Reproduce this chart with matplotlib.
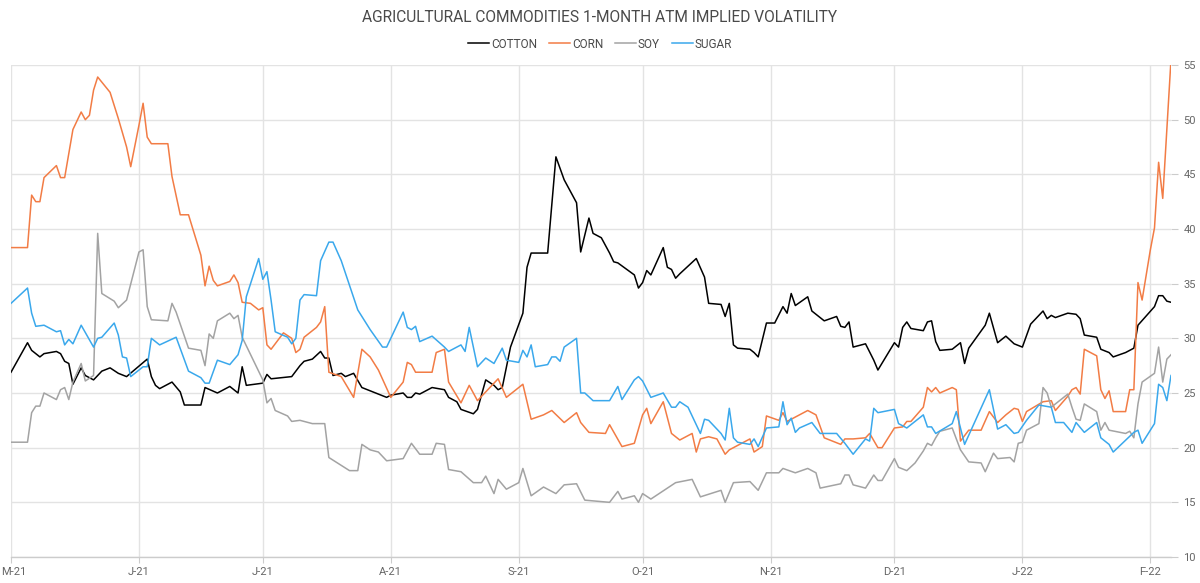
import matplotlib
matplotlib.use('Agg')
import matplotlib.pyplot as plt
import matplotlib.transforms as mtransforms
import pandas as pd

# ---------------- data ----------------
base_date = '2021-05-01'

cotton_day = [0, 4, 5, 7, 8, 11, 12, 13, 14, 15, 17, 18, 20, 22, 24, 26, 28, 33, 34, 35, 36, 39, 41, 42,
              46, 47, 50, 53, 55, 56, 57, 61, 62, 63, 68, 70, 71, 73, 75, 76, 77, 78, 80, 81, 83, 85, 87,
              89, 91, 92, 95, 96, 97, 98, 99, 102, 105, 106, 108, 109, 112, 113, 115, 117, 118, 119, 121,
              124, 125, 126, 130, 132, 134, 137, 138, 140, 141, 143, 145, 146, 147, 151, 152, 153, 154,
              155, 158, 159, 160, 161, 162, 166, 168, 169, 172, 173, 174, 175, 176, 179, 180, 181, 183,
              185, 187, 188, 189, 190, 193, 194, 195, 197, 200, 201, 202, 203, 204, 207, 209, 210, 214,
              215, 216, 217, 218, 221, 222, 223, 224, 225, 228, 230, 231, 232, 236, 237, 239, 241, 243,
              245, 247, 250, 251, 252, 253, 256, 258, 259, 260, 263, 264, 266, 267, 270, 272, 273, 277,
              278, 279, 280, 281]
cotton_vol = [26.9, 29.6, 28.9, 28.3, 28.6, 28.8, 28.6, 27.9, 27.7, 25.8, 27.3, 26.6, 26.2, 27.0, 27.3,
              26.8, 26.5, 28.1, 26.5, 25.7, 25.4, 26.0, 25.1, 23.9, 23.9, 25.5, 25.0, 25.6, 25.0, 27.4,
              25.7, 25.9, 26.7, 26.3, 26.5, 27.5, 27.9, 28.1, 28.8, 28.2, 28.2, 26.6, 26.8, 26.5, 26.8,
              25.5, 25.2, 24.9, 24.6, 24.8, 25.0, 24.6, 24.6, 25.0, 24.9, 25.5, 25.3, 24.6, 24.2, 23.5,
              23.1, 23.5, 26.2, 25.7, 25.3, 25.5, 29.2, 32.3, 36.5, 37.8, 37.8, 46.6, 44.5, 42.4, 37.9,
              41.0, 39.6, 39.2, 37.8, 37.0, 36.9, 35.8, 34.6, 35.1, 36.2, 35.8, 38.3, 36.5, 36.3, 35.5,
              35.9, 37.3, 35.6, 33.2, 33.1, 32.0, 33.2, 29.4, 29.1, 29.0, 28.7, 28.3, 31.4, 31.4, 32.9,
              32.3, 34.1, 33.0, 33.8, 32.5, 32.2, 31.6, 32.0, 31.1, 31.0, 31.5, 29.2, 29.5, 28.0, 27.1,
              29.6, 29.2, 31.0, 31.5, 30.9, 30.7, 31.5, 31.6, 29.7, 28.9, 29.0, 29.6, 27.7, 29.1, 31.2,
              32.3, 29.6, 30.2, 29.5, 29.2, 31.3, 32.5, 31.8, 32.1, 31.9, 32.3, 32.2, 31.8, 30.3, 30.1,
              29.0, 28.7, 28.3, 28.7, 29.1, 31.2, 32.9, 33.9, 33.9, 33.4, 33.3]

corn_day = [0, 4, 5, 6, 7, 8, 11, 12, 13, 15, 17, 18, 19, 20, 21, 24, 26, 28, 29, 31, 32, 33, 34, 38, 39,
            41, 43, 46, 47, 48, 49, 50, 53, 54, 55, 56, 58, 60, 61, 62, 63, 66, 68, 69, 70, 71, 74, 75,
            76, 77, 80, 83, 85, 87, 89, 92, 95, 96, 97, 98, 102, 103, 105, 106, 109, 111, 113, 118, 120,
            124, 126, 129, 131, 134, 137, 138, 140, 144, 145, 148, 151, 153, 154, 155, 158, 160, 162,
            165, 166, 167, 169, 171, 173, 174, 179, 180, 182, 183, 186, 187, 188, 191, 193, 195, 197,
            201, 202, 204, 207, 208, 210, 211, 214, 216, 217, 218, 221, 222, 223, 224, 225, 228, 229,
            230, 232, 235, 237, 239, 241, 243, 244, 245, 246, 250, 252, 253, 256, 257, 258, 259, 260,
            263, 264, 265, 266, 267, 270, 271, 272, 273, 274, 276, 277, 278, 279, 281]
corn_vol = [38.3, 38.3, 43.1, 42.5, 42.5, 44.7, 45.8, 44.7, 44.7, 49.1, 50.7, 50.0, 50.4, 52.7, 53.9,
            52.5, 50.1, 47.5, 45.7, 49.5, 51.5, 48.4, 47.8, 47.8, 44.8, 41.3, 41.3, 37.6, 34.8, 36.6,
            35.3, 34.8, 35.2, 35.8, 35.1, 33.3, 33.2, 32.6, 32.8, 29.4, 29.0, 30.5, 30.0, 28.7, 29.0,
            30.1, 31.0, 31.5, 32.9, 26.9, 26.5, 24.6, 29.0, 28.3, 27.1, 24.6, 26.0, 27.8, 27.6, 26.9,
            26.9, 28.7, 29.0, 26.0, 24.1, 25.7, 24.3, 26.3, 24.6, 25.8, 22.6, 23.0, 23.4, 22.3, 23.2,
            22.3, 21.4, 21.3, 22.1, 20.1, 20.4, 23.0, 23.6, 22.2, 24.2, 21.3, 20.7, 21.3, 19.6, 20.8,
            21.0, 20.8, 19.4, 19.8, 20.8, 19.6, 20.1, 22.9, 22.5, 23.2, 22.4, 23.0, 23.4, 23.0, 20.9,
            20.3, 20.8, 20.8, 20.9, 21.3, 20.0, 20.0, 21.8, 21.9, 22.4, 22.4, 23.7, 25.5, 25.1, 25.5,
            25.0, 25.5, 25.3, 20.6, 21.6, 21.6, 23.3, 22.3, 23.0, 23.6, 23.5, 22.4, 23.3, 24.2, 24.3,
            23.4, 24.7, 25.3, 25.5, 24.9, 29.0, 28.4, 25.3, 24.5, 25.2, 23.3, 23.3, 25.3, 25.3, 35.1,
            33.5, 38.1, 40.1, 46.1, 42.8, 55.5]

soy_day = [0, 4, 5, 6, 7, 8, 11, 12, 13, 14, 15, 17, 18, 20, 21, 22, 25, 26, 28, 31, 32, 33, 34, 38, 39,
           40, 43, 46, 47, 48, 49, 50, 53, 54, 55, 56, 61, 62, 63, 64, 67, 68, 70, 73, 76, 77, 82, 84,
           85, 87, 89, 91, 95, 97, 99, 102, 103, 105, 106, 109, 112, 114, 115, 117, 118, 120, 123, 124,
           126, 129, 132, 134, 137, 139, 145, 147, 148, 151, 152, 153, 155, 159, 161, 165, 167, 172,
           173, 175, 179, 181, 183, 186, 187, 190, 193, 195, 196, 201, 202, 203, 204, 207, 209, 210,
           211, 214, 215, 217, 219, 221, 222, 223, 224, 225, 228, 230, 232, 235, 236, 238, 239, 242,
           243, 244, 245, 246, 249, 250, 251, 252, 256, 257, 258, 259, 260, 263, 264, 265, 266, 270,
           271, 272, 273, 274, 277, 278, 279, 280, 281]
soy_vol = [20.5, 20.5, 23.2, 23.8, 23.8, 25.0, 24.4, 25.3, 25.5, 24.4, 26.0, 27.7, 26.1, 26.6, 39.6,
           34.1, 33.4, 32.8, 33.5, 37.9, 38.1, 32.9, 31.7, 31.6, 33.2, 32.4, 29.1, 28.9, 27.5, 30.4,
           30.0, 31.6, 32.3, 31.8, 32.1, 30.1, 26.2, 24.1, 24.5, 23.4, 22.9, 22.4, 22.5, 22.2, 22.2,
           19.1, 17.9, 17.9, 20.3, 19.8, 19.6, 18.8, 19.0, 20.4, 19.4, 19.4, 20.4, 20.3, 18.0, 17.8,
           16.8, 16.8, 17.4, 15.8, 17.1, 16.2, 16.8, 18.1, 15.6, 16.4, 15.8, 16.6, 16.7, 15.2, 15.0,
           16.0, 15.3, 15.6, 15.0, 15.8, 15.3, 16.3, 16.8, 17.1, 15.5, 16.1, 15.0, 16.8, 16.9, 16.1,
           17.7, 17.7, 18.1, 17.7, 18.1, 17.7, 16.3, 16.7, 17.5, 17.5, 16.6, 16.3, 17.5, 17.0, 17.0,
           19.0, 18.2, 17.9, 18.6, 19.7, 20.4, 20.2, 20.9, 21.5, 21.8, 19.8, 18.7, 18.6, 17.8, 19.5,
           19.0, 19.1, 18.7, 20.4, 20.5, 21.6, 22.2, 25.5, 25.0, 23.7, 24.9, 23.7, 22.6, 22.5, 24.0,
           23.3, 21.6, 22.3, 21.6, 21.3, 21.5, 20.9, 24.0, 26.0, 26.8, 29.2, 26.0, 28.1, 28.5]

sugar_day = [0, 4, 5, 6, 8, 11, 12, 13, 14, 15, 17, 20, 21, 22, 25, 26, 27, 28, 29, 32, 33, 34, 36, 40,
             43, 46, 47, 48, 50, 53, 55, 56, 57, 60, 61, 62, 63, 64, 67, 68, 69, 70, 71, 74, 75, 77,
             78, 80, 84, 87, 90, 91, 95, 96, 97, 98, 99, 102, 105, 106, 109, 110, 111, 113, 115, 117,
             119, 120, 123, 124, 125, 126, 127, 130, 131, 132, 133, 134, 137, 138, 139, 141, 145, 147,
             148, 151, 152, 153, 155, 158, 160, 161, 162, 164, 167, 168, 169, 172, 173, 174, 175, 176,
             179, 180, 181, 183, 186, 187, 188, 189, 190, 191, 194, 196, 200, 202, 204, 207, 208, 209,
             210, 214, 215, 217, 221, 222, 223, 224, 228, 229, 231, 237, 239, 241, 243, 244, 246, 249,
             252, 253, 255, 257, 258, 260, 263, 264, 266, 267, 272, 273, 274, 277, 278, 279, 280, 281]
sugar_vol = [33.2, 34.6, 32.3, 31.1, 31.2, 30.6, 30.7, 29.4, 29.9, 29.5, 31.2, 29.2, 30.0, 30.1, 31.4,
             30.3, 28.3, 28.2, 26.5, 27.4, 27.4, 30.0, 29.4, 30.1, 27.0, 26.4, 25.9, 25.9, 28.0, 27.6,
             28.5, 29.8, 33.8, 37.3, 35.4, 36.1, 33.5, 30.6, 30.1, 29.5, 30.0, 33.5, 34.0, 33.9, 37.1,
             38.8, 38.8, 37.1, 32.6, 30.8, 29.2, 29.2, 32.4, 31.0, 30.8, 31.1, 29.7, 30.2, 29.2, 28.8,
             29.4, 28.8, 31.0, 27.4, 28.2, 27.7, 29.1, 28.0, 27.8, 28.9, 28.3, 29.4, 27.4, 27.6, 28.3,
             28.3, 27.9, 29.2, 30.0, 25.0, 25.0, 24.3, 24.3, 25.6, 24.4, 26.2, 26.5, 26.1, 24.6, 25.0,
             23.7, 23.7, 24.2, 23.7, 21.3, 22.6, 22.5, 21.3, 20.7, 23.6, 20.9, 20.5, 20.3, 20.8, 20.1,
             21.8, 21.9, 24.2, 22.1, 22.7, 21.4, 21.8, 22.3, 21.3, 21.3, 20.4, 19.4, 20.8, 20.6, 23.6,
             23.2, 23.5, 22.2, 21.8, 23.0, 21.9, 21.9, 21.3, 22.2, 23.3, 20.3, 25.3, 21.7, 22.1, 21.3,
             21.4, 22.5, 23.9, 23.7, 22.3, 22.3, 21.4, 22.3, 21.4, 22.3, 20.9, 20.3, 19.6, 21.4, 21.6,
             20.4, 22.2, 25.8, 25.5, 24.3, 26.6]

series_names = ['COTTON', 'CORN', 'SOY', 'SUGAR']
series_colors = ['#000000', '#f27c45', '#a3a3a3', '#3aa8ec']

month_ticks = ['2021-05-01', '2021-06-01', '2021-07-01', '2021-08-01', '2021-09-01', '2021-10-01',
               '2021-11-01', '2021-12-01', '2022-01-01', '2022-02-01']
month_labels = ['M-21', 'J-21', 'J-21', 'A-21', 'S-21', 'O-21', 'N-21', 'D-21', 'J-22', 'F-22']
y_ticks = [10, 15, 20, 25, 30, 35, 40, 45, 50, 55]
x_end_day = 281

title = 'AGRICULTURAL COMMODITIES 1-MONTH ATM IMPLIED VOLATILITY'

# ---------------- plot ----------------
plt.rcParams['font.family'] = ['Roboto', 'DejaVu Sans']

base = pd.Timestamp(base_date)


def to_dates(days):
    return base + pd.to_timedelta(days, unit='D')


W, H = 1200, 583
fig = plt.figure(figsize=(W / 100, H / 100), dpi=100)
ax = fig.add_axes([11 / W, 1 - 557 / H, (1171 - 11) / W, (557 - 65) / H])

all_days = [cotton_day, corn_day, soy_day, sugar_day]
all_vols = [cotton_vol, corn_vol, soy_vol, sugar_vol]
handles = []
for days, vols, name, col in zip(all_days, all_vols, series_names, series_colors):
    h, = ax.plot(to_dates(days), vols, color=col, lw=1.1, label=name, zorder=3)
    handles.append(h)

ax.set_xlim(base, to_dates([x_end_day])[0])
ax.set_ylim(y_ticks[0], y_ticks[-1])

ax.set_xticks(pd.to_datetime(month_ticks))
ax.set_xticklabels(month_labels)
ax.set_yticks(y_ticks)
ax.yaxis.tick_right()

ax.grid(True, color='#e3e3e3', lw=1.0, zorder=0)
for s in ['top', 'left', 'right']:
    ax.spines[s].set_visible(False)
ax.spines['bottom'].set_color('#cccccc')
ax.spines['bottom'].set_linewidth(1.0)

ax.tick_params(axis='x', colors='#cccccc', labelcolor='#666666', labelsize=8, length=4, pad=3)
ax.tick_params(axis='y', colors='#cccccc', labelcolor='#666666', labelsize=8, length=5, pad=4)

# nudge the first x label so it is not clipped at the left edge
first = ax.get_xticklabels()[0]
first.set_transform(first.get_transform() +
                    mtransforms.ScaledTranslation(3 / 100, 0, fig.dpi_scale_trans))

fig.text(0.5, 1 - 18 / H, title, ha='center', va='center', fontsize=11.2, color='#4a4a4a')

fig.legend(handles=handles, labels=series_names, loc='center', bbox_to_anchor=(0.5, 1 - 44 / H),
           ncol=4, frameon=False, fontsize=8.5, handlelength=1.8, columnspacing=1.0,
           handletextpad=0.15, labelcolor='#4a4a4a')

fig.savefig('out.png', dpi=100)
